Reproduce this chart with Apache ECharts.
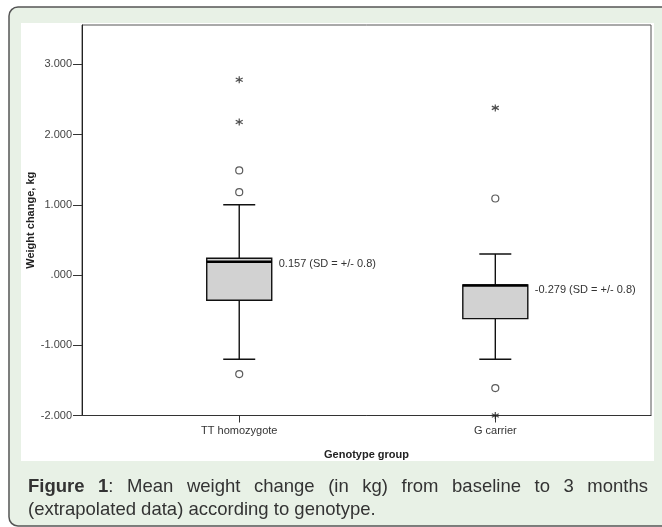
<!DOCTYPE html>
<html>
<head>
<meta charset="utf-8">
<script src="https://cdn.jsdelivr.net/npm/echarts@6/dist/echarts.min.js"></script>
<style>
  html, body { margin: 0; padding: 0; background: #fff; }
  #chart { width: 662px; height: 527px; }
</style>
</head>
<body>
<div id="chart"></div>
<script>
// data
const categories = ['TT homozygote', 'G carrier'];
// [min, Q1, median, Q3, max]
const boxStats = [
  [-1.2, -0.36, 0.19, 0.24, 1.0],
  [-1.2, -0.62, -0.15, -0.14, 0.3]
];
const meanLabels = ['0.157 (SD = +/- 0.8)', '-0.279 (SD = +/- 0.8)'];
const circleOutliers = [[0, 1.49], [0, 1.18], [0, -1.41], [1, 1.09], [1, -1.61]];
const starOutliers = [[0, 2.78], [0, 2.18], [1, 2.38], [1, -2.0]];
const yTicks = [-2, -1, 0, 1, 2, 3];
const captionLine1 = 'Figure 1: Mean weight change (in kg) from baseline to 3 months';
const captionLine2 = '(extrapolated data) according to genotype.';

const FONT = '"Liberation Sans", Arial, sans-serif';
const CAP_SIZE = 18.5;

// justify the first caption line like the figure does
const ctx = document.createElement('canvas').getContext('2d');
const measure = (t, bold) => {
  ctx.font = (bold ? 'bold ' : '') + CAP_SIZE + 'px ' + FONT;
  return ctx.measureText(t).width;
};
const words = [[['Figure', true]], [['1', true], [':', false]]];
captionLine1.split(' ').slice(2).forEach(wd => words.push([[wd, false]]));
const capLeft = 28, capRight = 648;
let total = 0;
words.forEach(wd => wd.forEach(s => { total += measure(s[0], s[1]); }));
const gap = (capRight - capLeft - total) / (words.length - 1);
const captionEls = [];
let cx = capLeft;
words.forEach(wd => {
  wd.forEach(s => {
    captionEls.push({
      type: 'text', x: cx, y: 487,
      style: { text: s[0], font: (s[1] ? 'bold ' : '') + CAP_SIZE + 'px ' + FONT, fill: '#333', verticalAlign: 'middle' }
    });
    cx += measure(s[0], s[1]);
  });
  cx += gap;
});
captionEls.push({
  type: 'text', x: capLeft, y: 510,
  style: { text: captionLine2, font: CAP_SIZE + 'px ' + FONT, fill: '#333', verticalAlign: 'middle' }
});

const boxData = boxStats.map((b, i) => [i].concat(b));
const starPath = 'path://M5,0L5,10M0.7,2.5L9.3,7.5M0.7,7.5L9.3,2.5';

const myChart = echarts.init(document.getElementById('chart'));
myChart.setOption({
  animation: false,
  graphic: [
    {
      type: 'rect', z: -10, silent: true,
      shape: { x: 9, y: 7, width: 670, height: 519, r: 9 },
      style: { fill: '#e8f1e6', stroke: '#555', lineWidth: 1.5 }
    },
    {
      type: 'rect', z: -9, silent: true,
      shape: { x: 21, y: 23, width: 633, height: 438 },
      style: { fill: '#fff' }
    }
  ].concat(captionEls),
  grid: {
    left: 82, top: 25, right: 11, bottom: 111.5,
    show: true, borderColor: '#555', borderWidth: 1, backgroundColor: 'transparent'
  },
  xAxis: {
    type: 'value',
    min: -0.614, max: 1.608,
    splitLine: { show: false },
    name: 'Genotype group',
    nameLocation: 'middle',
    nameGap: 34,
    nameTextStyle: { fontFamily: FONT, fontSize: 11, fontWeight: 'bold', color: '#222' },
    axisLine: { onZero: false, lineStyle: { color: '#333', width: 1 } },
    axisTick: { customValues: [0, 1], length: 7, lineStyle: { color: '#333' } },
    axisLabel: {
      customValues: [0, 1], margin: 10,
      fontFamily: FONT, fontSize: 11, color: '#333',
      formatter: v => categories[Math.round(v)]
    }
  },
  yAxis: {
    type: 'value',
    min: -2, max: 3.56,
    splitLine: { show: false },
    name: 'Weight change, kg',
    nameLocation: 'middle',
    nameGap: 46,
    nameMoveOverlap: false,
    nameTextStyle: { fontFamily: FONT, fontSize: 11, fontWeight: 'bold', color: '#222' },
    axisLine: { show: true, onZero: false, lineStyle: { color: '#222', width: 1 } },
    axisTick: { show: true, customValues: yTicks, length: 9, lineStyle: { color: '#333' } },
    axisLabel: {
      customValues: yTicks, margin: 10,
      fontFamily: FONT, fontSize: 11, color: '#444',
      formatter: v => v === 0 ? '.000' : v.toFixed(3)
    }
  },
  series: [
    {
      type: 'custom',
      data: boxData,
      encode: { x: 0, y: [1, 2, 3, 4, 5] },
      renderItem: function (params, api) {
        const i = api.value(0);
        const pMin = api.coord([i, api.value(1)]);
        const pQ1 = api.coord([i, api.value(2)]);
        const pMed = api.coord([i, api.value(3)]);
        const pQ3 = api.coord([i, api.value(4)]);
        const pMax = api.coord([i, api.value(5)]);
        const x = pMin[0];
        const hb = 32.5, hc = 16;
        const ln = { stroke: '#111', lineWidth: 1.4 };
        return {
          type: 'group',
          children: [
            { type: 'line', shape: { x1: x, y1: pMax[1], x2: x, y2: pQ3[1] }, style: ln },
            { type: 'line', shape: { x1: x, y1: pQ1[1], x2: x, y2: pMin[1] }, style: ln },
            { type: 'line', shape: { x1: x - hc, y1: pMax[1], x2: x + hc, y2: pMax[1] }, style: ln },
            { type: 'line', shape: { x1: x - hc, y1: pMin[1], x2: x + hc, y2: pMin[1] }, style: ln },
            {
              type: 'rect',
              shape: { x: x - hb, y: pQ3[1], width: hb * 2, height: pQ1[1] - pQ3[1] },
              style: { fill: '#d2d2d2', stroke: '#111', lineWidth: 1.4 }
            },
            { type: 'line', shape: { x1: x - hb, y1: pMed[1], x2: x + hb, y2: pMed[1] }, style: { stroke: '#000', lineWidth: 2.5 } },
            {
              type: 'text', x: x + hb + 7, y: pMed[1] + (i === 1 ? 4 : 2),
              style: { text: meanLabels[i], font: '11px ' + FONT, fill: '#333', verticalAlign: 'middle' }
            }
          ]
        };
      }
    },
    {
      type: 'scatter',
      data: circleOutliers,
      symbol: 'circle',
      symbolSize: 7,
      itemStyle: { color: '#fff', borderColor: '#333', borderWidth: 1.2 }
    },
    {
      type: 'scatter',
      data: starOutliers,
      symbol: starPath,
      symbolSize: 7,
      itemStyle: { color: 'none', borderColor: '#222', borderWidth: 1.2 }
    }
  ]
});
window.onresize = function () {
  myChart.resize();
};
</script>
</body>
</html>
